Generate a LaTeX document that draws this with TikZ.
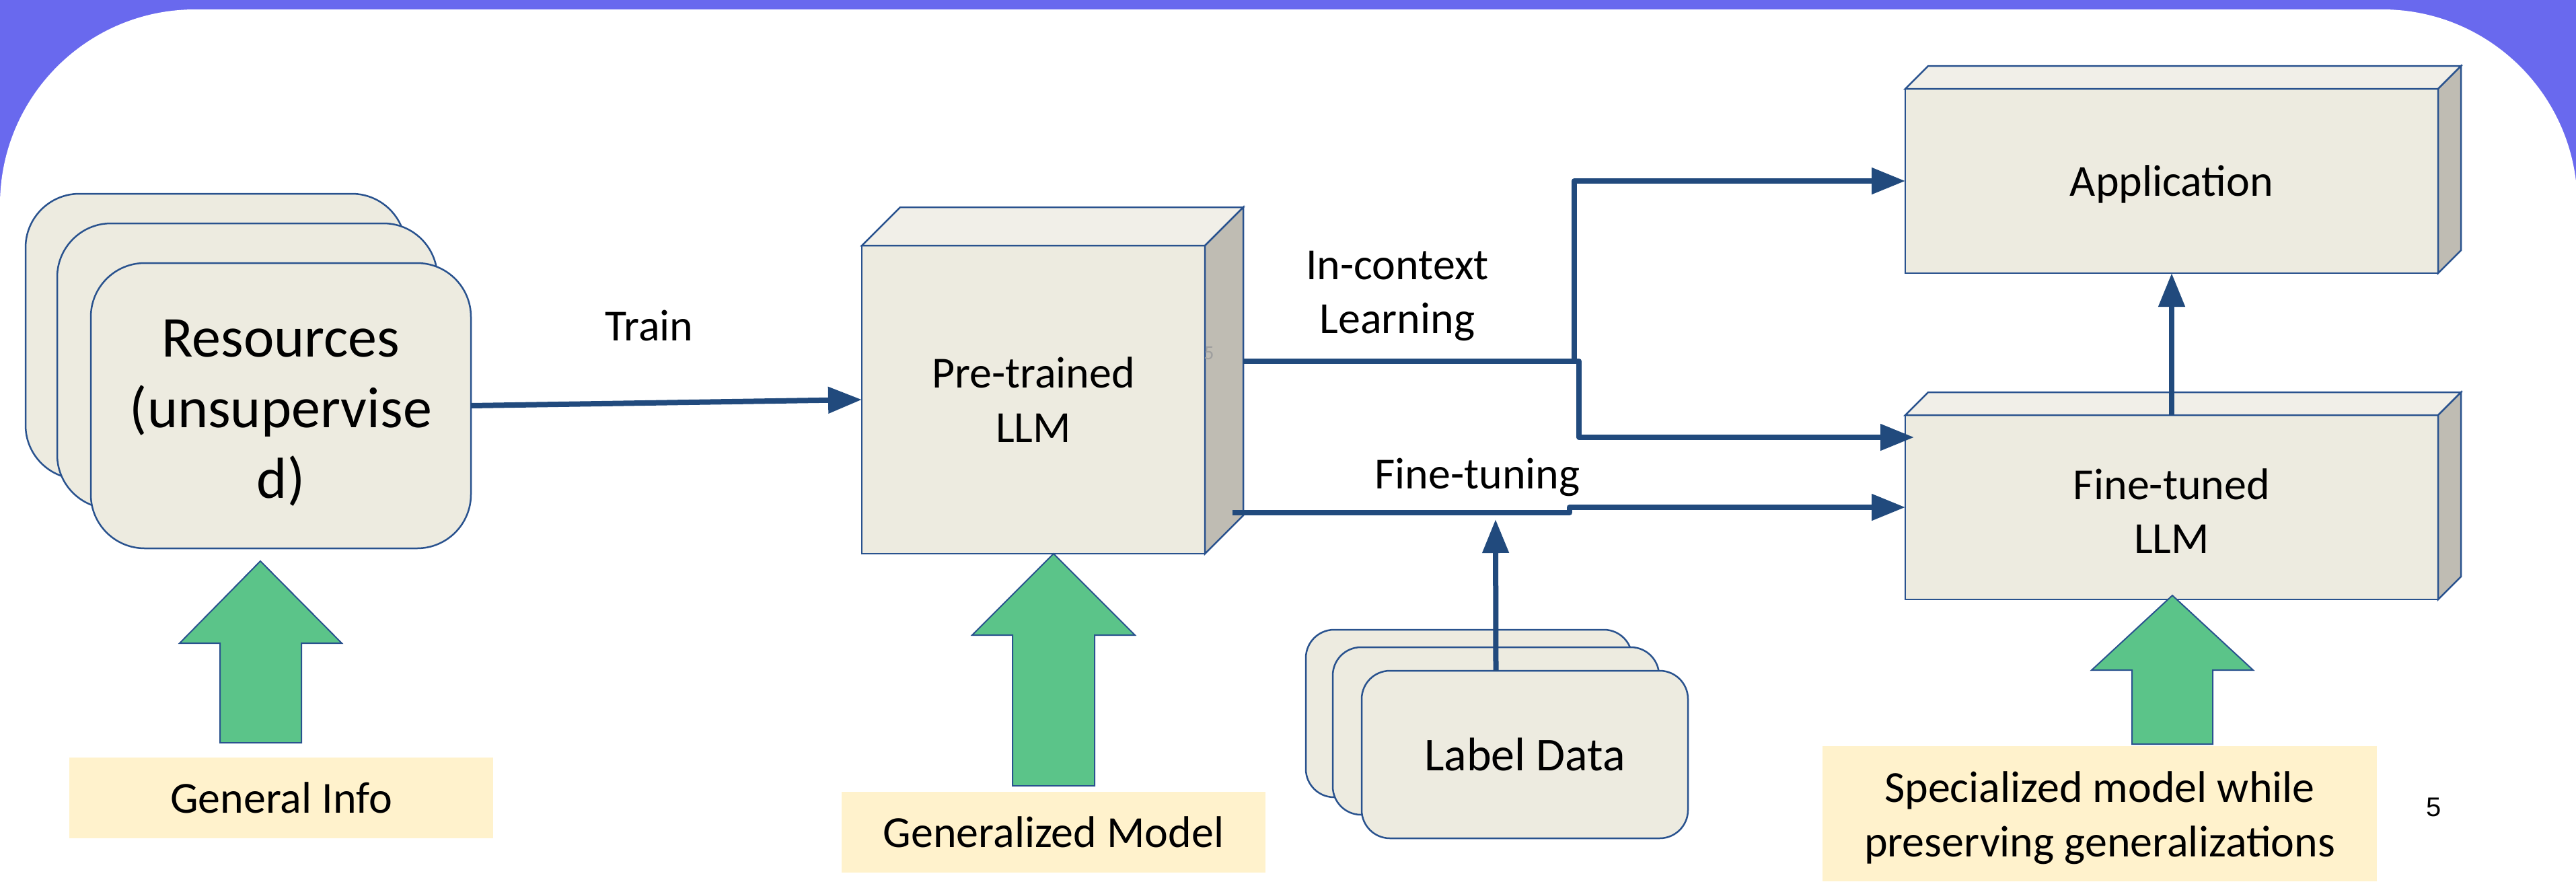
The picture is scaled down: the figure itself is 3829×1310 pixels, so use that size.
\documentclass[tikz,border=0pt]{standalone}
\usepackage{fontspec}
\setmainfont{Carlito}
\newfontfamily\arialfont{Liberation Sans}
\usetikzlibrary{arrows.meta,calc}
\definecolor{bgblue}{RGB}{105,105,238}
\definecolor{facefill}{RGB}{237,235,224}
\definecolor{topfill}{RGB}{241,239,232}
\definecolor{sidefill}{RGB}{191,188,179}
\definecolor{bord}{RGB}{41,82,142}
\definecolor{lineblue}{RGB}{33,74,125}
\definecolor{greenarrow}{RGB}{91,196,137}
\definecolor{noteyellow}{RGB}{255,242,204}
\newcommand{\cubeparts}[2]{%
  \filldraw[topface] (#1.north west) -- ++(#2,-#2) -- ($(#1.north east)+(#2,-#2)$) -- (#1.north east) -- cycle;
  \filldraw[sideface] (#1.north east) -- ++(#2,-#2) -- ($(#1.south east)+(#2,-#2)$) -- (#1.south east) -- cycle;}
\begin{document}
\begin{tikzpicture}[x=1pt,y=-1pt,
  face/.style={draw=bord, line width=2.5pt, fill=facefill, inner sep=0pt, outer sep=0pt,
    anchor=north west, align=center, font=\fontsize{66}{80.5}\selectfont},
  topface/.style={draw=bord, line width=2.5pt, fill=topfill, line join=miter},
  sideface/.style={draw=bord, line width=2.5pt, fill=sidefill, line join=miter},
  card/.style={draw=bord, line width=2.5pt, fill=facefill, inner sep=0pt, outer sep=0pt,
    anchor=north west, align=center},
  bigcard/.style={card, rounded corners=80pt, minimum width=565pt, minimum height=424pt,
    font=\fontsize{86}{105}\selectfont},
  smallcard/.style={card, rounded corners=42pt, minimum width=485pt, minimum height=249pt,
    font=\fontsize{70}{85}\selectfont},
  conn/.style={draw=lineblue, line width=8pt, line join=round, -{Triangle[length=50pt,width=38pt]}},
  note/.style={fill=noteyellow, inner sep=0pt, outer sep=0pt, anchor=north west, align=center,
    font=\fontsize{66}{80.5}\selectfont},
  lbl/.style={inner sep=0pt, align=center, font=\fontsize{66}{80.5}\selectfont},
  garrow/.style={fill=greenarrow, draw=bord, line width=2pt, line join=miter}]
\useasboundingbox (0,0) rectangle (3829,1310);
\clip (0,0) rectangle (3829,1310);
% background
\fill[bgblue] (0,0) rectangle (3829,1310);
\fill[white, rounded corners=290pt] (0,14) rectangle (3831,1750);

% Resources stack
\node[bigcard] (res1) at (38,288) {};
\node[bigcard] (res2) at (85,332) {};
\node[bigcard] (res3) at (135,391) {\rule{0pt}{76pt}Resources\\(unsupervise\\d)};

% Pre-trained LLM cube
\node[face, minimum width=510pt, minimum height=458pt] (pt) at (1281,365) {Pre-trained\\LLM};
\cubeparts{pt}{57}
\node[gray!75, inner sep=0pt, font=\fontsize{30}{36}\selectfont] (stray) at (1797,525) {5};

% Application and Fine-tuned cubes
\node[face, minimum width=792pt, minimum height=274pt, text depth=0pt] (app) at (2832,132) {Application};
\cubeparts{app}{34}
\node[face, minimum width=792pt, minimum height=274pt] (ft) at (2832,617) {\rule{0pt}{57pt}Fine-tuned\\LLM};
\cubeparts{ft}{34}

% Label data stack
\node[smallcard] (ld1) at (1941,936) {};
\node[smallcard] (ld2) at (1981,962) {};
\node[smallcard] (ld3) at (2024,997) {Label Data};

% Green arrows
\draw[garrow] (387,834) -- (508,956) -- (448,956) -- (448,1104) -- (327,1104) -- (327,956) -- (267,956) -- cycle;
\draw[garrow] (1566,823) -- (1687,944) -- (1627,944) -- (1627,1168) -- (1505,1168) -- (1505,944) -- (1445,944) -- cycle;
\draw[garrow] (3229,885) -- (3349,996) -- (3289,996) -- (3289,1106) -- (3169,1106) -- (3169,996) -- (3109,996) -- cycle;

% Notes
\node[note, minimum width=630pt, minimum height=120pt] (n1) at (103,1126) {General Info};
\node[note, minimum width=630pt, minimum height=120pt] (n2) at (1251,1177) {Generalized Model};
\node[note, minimum width=824pt, minimum height=201pt] (n3) at (2709,1109) {\rule{0pt}{58pt}Specialized model while\\preserving generalizations};

% Connectors
\coordinate (icstart) at ($(pt.east)+(57,-57)$);
\coordinate (ftstart) at ($(pt.east)+(41,168)$);
\coordinate (ldtip) at (2223,772);
\draw[conn] (res3.east) -- (pt.west);
\draw[conn] (icstart) -- ++(492,0) |- (app.west);
\draw[conn] (icstart) -- ++(499,0) |- ([xshift=13pt,yshift=104pt]ft.west);
\draw[conn] (ftstart) -- ++(501,0) -- ++(0,-8) -- (ft.west);
\draw[conn] ([xshift=-43pt]ld3.north) -- (ldtip);
\draw[conn] (ft.north) -- (app.south);

% Labels
\node[lbl] (train) at (965,484) {Train};
\node[lbl] (icl) at (2077,440) {In-context\\Learning};
\node[lbl] (ftl) at (2196,709) {Fine-tuning};
\node[inner sep=0pt, font=\arialfont\fontsize{40}{48}\selectfont] (pgnum) at (3618,1200) {5};
\end{tikzpicture}
\end{document}
